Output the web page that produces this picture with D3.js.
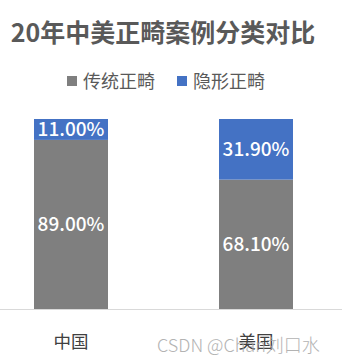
<!DOCTYPE html>
<html><head><meta charset="utf-8">
<script src="https://cdn.jsdelivr.net/npm/d3@7"></script>
<style>body{margin:0;background:#fff}svg{display:block}</style>
</head><body><svg id="c" width="342" height="364"></svg>
<script>
const categories = ["中国", "美国"];
const seriesNames = ["传统正畸", "隐形正畸"];
const traditional = [89.0, 68.1];
const invisible = [11.0, 31.9];
const colors = ["#7F7F7F", "#4472C4"];
const titleText = "20年中美正畸案例分类对比";
const watermark = "CSDN @Chan刘口水";

const svg = d3.select("#c");
const font = "'Noto Sans CJK SC','Microsoft YaHei',sans-serif";
const plot = {left: 0, right: 342, top: 119, bottom: 309};

const xb = d3.scaleBand().domain(categories).range([-21.5, 348.5]).padding(0);
const y = d3.scaleLinear().domain([0, 100]).range([plot.bottom, plot.top]);

// title
svg.append("text").attr("x", 163).attr("y", 42).attr("text-anchor", "middle")
  .attr("font-family", font).attr("font-weight", "bold").attr("font-size", 25)
  .attr("fill", "#595959").text(titleText);

// legend
const legX = [67, 177];
seriesNames.forEach((n, i) => {
  svg.append("rect").attr("x", legX[i]).attr("y", 76).attr("width", 10).attr("height", 10).attr("fill", colors[i]);
  svg.append("text").attr("x", legX[i] + 16).attr("y", 88).attr("font-family", font)
    .attr("font-size", 18).attr("fill", "#595959").text(n);
});

const data = categories.map((c, i) => ({cat: c, vals: [traditional[i], invisible[i]]}));
const stack = d3.stack().keys([0, 1]).value((d, k) => d.vals[k]);
const series = stack(data);

const bw = 74;
const cx = c => xb(c) + xb.bandwidth() / 2;

series.forEach((s, si) => {
  svg.append("g").selectAll("rect").data(s).join("rect")
    .attr("x", d => cx(d.data.cat) - bw / 2)
    .attr("width", bw)
    .attr("y", d => y(d[1]))
    .attr("height", d => y(d[0]) - y(d[1]))
    .attr("fill", colors[si]);
  svg.append("g").selectAll("text").data(s).join("text")
    .attr("x", d => cx(d.data.cat))
    .attr("y", d => (y(d[0]) + y(d[1])) / 2 + 7)
    .attr("text-anchor", "middle")
    .attr("font-family", font).attr("font-size", 19).attr("font-weight", 500).attr("fill", "#fff")
    .text(d => (d[1] - d[0]).toFixed(2) + "%");
});

// axis
const axis = d3.axisBottom(xb).tickSize(0).tickPadding(27);
const ag = svg.append("g").attr("transform", `translate(0,${plot.bottom})`).call(axis);
ag.select(".domain").attr("stroke", "#d9d9d9").attr("d", "M0,0.5H342");
ag.selectAll("text").attr("font-family", font).attr("font-size", 17.5).attr("fill", "#404040");

// watermark
svg.append("text").attr("x", 157).attr("y", 352).attr("font-family", font)
  .attr("font-size", 18).attr("font-weight", 300).attr("fill", "#a6a6a6").attr("opacity", 0.85).text(watermark);
</script></body></html>
